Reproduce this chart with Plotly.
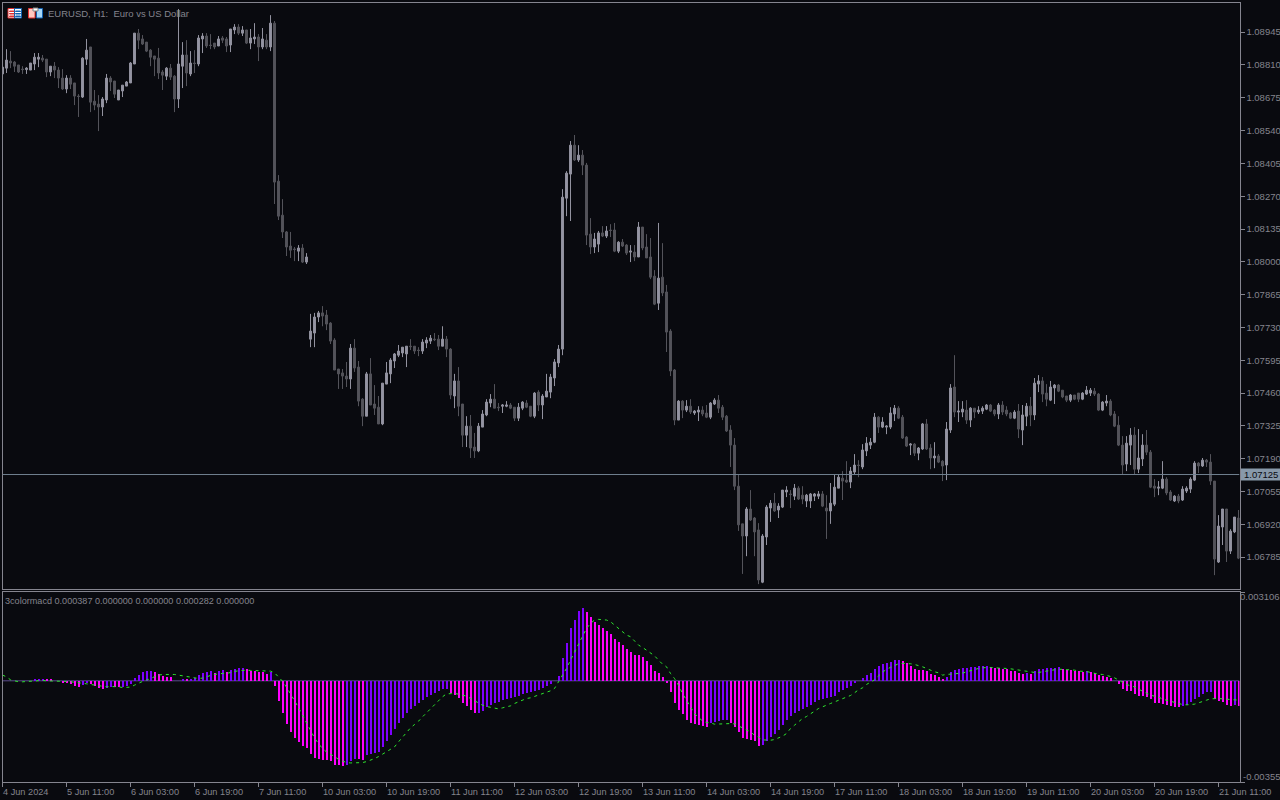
import plotly.graph_objects as go

# Prices in MT5 points (1 point = 0.00001)
opens = [
108773,108797,108826,108822,108810,108793,108791,108789,108814,108834,
108838,108834,108781,108805,108789,108756,108711,108756,108736,108682,
108678,108834,108884,108661,108649,108637,108666,108756,108744,108666,
108703,108723,108736,108814,108941,108917,108904,108871,108847,108838,
108781,108764,108797,108764,108670,108805,108851,108773,108818,108814,
108917,108929,108892,108900,108888,108921,108917,108892,108954,108966,
108941,108954,108900,108917,108925,108884,108912,108884,108982,108332,
108192,108123,108065,108053,108044,108057,107999,107682,107707,107773,
107790,107781,107748,107678,107559,107543,107530,107518,107645,107567,
107435,107365,107539,107415,107402,107333,107497,107539,107592,107616,
107625,107621,107653,107653,107637,107633,107666,107674,107682,107682,
107653,107682,107641,107448,107510,107415,107287,107324,107238,107222,
107320,107370,107419,107435,107402,107406,107406,107411,107402,107357,
107398,107419,107406,107365,107464,107411,107444,107464,107522,107584,
107641,108262,108361,108480,108419,108439,108398,108114,108061,108073,
108119,108106,108131,108131,108044,108081,108069,108040,108040,108020,
108143,108061,108020,107941,107830,107937,107876,107715,107555,107349,
107427,107390,107406,107378,107382,107390,107378,107361,107415,107431,
107402,107365,107308,107246,107077,106922,106872,106983,106946,106897,
106682,106868,106987,107007,106979,106991,107053,107045,107036,107069,
107040,107016,107016,107036,107036,107045,106987,106975,107003,107069,
107110,107102,107094,107135,107164,107156,107222,107246,107258,107361,
107320,107320,107320,107374,107398,107361,107279,107246,107250,107213,
107230,107333,107234,107193,107201,107180,107164,107308,107485,107382,
107382,107390,107349,107398,107382,107386,107394,107411,107390,107374,
107411,107390,107378,107357,107386,107308,107365,107406,107370,107497,
107510,107460,107431,107481,107493,107472,107448,107431,107452,107460,
107435,107456,107460,107468,107456,107390,107419,107427,107374,107328,
107246,107168,107246,107287,107147,107189,107246,107217,107077,107069,
107069,107106,107053,107016,107036,107020,107057,107065,107102,107172,
107160,107184,107176,107098,106765,106909,106983,106810,106889,106946]
highs = [
108801,108875,108867,108826,108810,108805,108801,108818,108859,108859,
108851,108834,108805,108822,108801,108793,108768,108768,108736,108690,
108842,108917,108884,108707,108686,108678,108773,108764,108744,108707,
108727,108744,108822,108941,108958,108933,108904,108875,108847,108880,
108789,108801,108814,108768,109040,108904,108912,108867,108871,108933,
108941,108941,108937,108900,108929,108929,108925,108958,108978,108978,
108970,108954,108958,108982,108937,108962,108937,109015,108991,108357,
108258,108127,108123,108061,108069,108073,108036,107786,107790,107798,
107818,107802,107752,107686,107559,107559,107588,107662,107682,107592,
107439,107547,107604,107493,107448,107501,107588,107604,107625,107658,
107649,107653,107682,107653,107649,107682,107690,107699,107707,107699,
107735,107695,107645,107539,107567,107415,107365,107370,107296,107337,
107390,107435,107456,107497,107419,107415,107427,107419,107402,107419,
107427,107431,107406,107464,107472,107456,107539,107539,107600,107658,
108299,108373,108497,108522,108480,108460,108407,108180,108119,108127,
108147,108147,108155,108160,108085,108094,108073,108069,108069,108164,
108143,108114,108098,107966,108160,108077,107905,107723,107559,107431,
107431,107431,107435,107390,107406,107406,107411,107423,107439,107452,
107411,107370,107328,107275,107123,106922,106991,107061,106950,106925,
106880,106999,107020,107049,107007,107061,107077,107061,107086,107077,
107077,107045,107049,107049,107057,107057,107040,107090,107123,107123,
107139,107180,107156,107209,107184,107250,107279,107275,107378,107365,
107361,107328,107402,107411,107406,107370,107283,107254,107254,107238,
107337,107353,107250,107258,107209,107184,107341,107497,107616,107427,
107427,107431,107402,107398,107406,107406,107415,107415,107394,107419,
107427,107406,107382,107390,107415,107411,107419,107444,107522,107534,
107526,107497,107510,107497,107497,107472,107448,107456,107452,107460,
107464,107489,107481,107481,107460,107427,107452,107435,107386,107365,
107283,107283,107316,107320,107312,107291,107308,107226,107106,107098,
107180,107114,107061,107040,107045,107077,107077,107114,107180,107176,
107193,107189,107209,107098,106958,106983,106983,106900,106950,106979]
lows = [
108773,108777,108797,108781,108777,108773,108773,108789,108789,108801,
108822,108760,108764,108756,108715,108707,108694,108711,108645,108596,
108674,108810,108616,108624,108538,108600,108653,108703,108674,108666,
108678,108723,108736,108814,108875,108892,108863,108805,108764,108752,
108707,108748,108748,108616,108633,108715,108723,108764,108777,108805,
108859,108880,108875,108875,108888,108900,108863,108863,108937,108933,
108929,108896,108875,108896,108826,108875,108875,108867,108238,108172,
108098,108024,108016,108003,108003,107995,107991,107649,107649,107752,
107735,107719,107662,107555,107477,107477,107485,107477,107547,107406,
107324,107365,107411,107370,107333,107328,107497,107501,107563,107608,
107608,107567,107637,107621,107612,107621,107645,107662,107674,107637,
107653,107608,107435,107398,107365,107238,107238,107193,107193,107217,
107320,107365,107402,107398,107386,107378,107402,107394,107345,107345,
107390,107398,107361,107357,107386,107353,107444,107439,107489,107567,
107616,108188,108168,108415,108411,108357,108069,108032,108036,108040,
108102,108098,108102,108040,108036,108061,108028,107999,108003,108020,
108048,108016,107929,107822,107802,107859,107629,107530,107328,107349,
107357,107382,107374,107370,107345,107365,107357,107353,107411,107378,
107349,107300,107156,107061,106893,106716,106789,106934,106789,106674,
106678,106835,106930,106971,106946,106987,107032,106987,107020,107020,
107003,106991,106987,107016,107024,106991,106860,106922,106995,107069,
107020,107090,107069,107127,107114,107147,107201,107230,107254,107296,
107316,107291,107312,107345,107353,107271,107238,107205,107201,107184,
107226,107226,107147,107151,107172,107098,107102,107296,107361,107341,
107361,107333,107320,107357,107374,107374,107390,107382,107365,107353,
107370,107365,107353,107353,107275,107246,107324,107324,107349,107464,
107423,107406,107427,107415,107464,107439,107423,107423,107431,107423,
107431,107452,107448,107448,107386,107386,107406,107365,107320,107242,
107123,107139,107164,107127,107131,107160,107205,107069,107032,107040,
107065,107040,107016,107012,107007,107016,107049,107049,107098,107131,
107156,107156,107082,106711,106761,106835,106765,106798,106884,106777]
closes = [
108801,108830,108818,108805,108781,108791,108797,108818,108842,108842,
108830,108781,108805,108789,108756,108711,108756,108731,108682,108680,
108838,108871,108657,108645,108637,108670,108756,108740,108690,108707,
108727,108740,108818,108941,108912,108896,108867,108842,108834,108777,
108768,108797,108760,108670,108814,108851,108777,108818,108816,108921,
108929,108888,108890,108884,108917,108912,108888,108958,108966,108941,
108954,108900,108921,108925,108884,108917,108884,108982,108328,108188,
108123,108061,108048,108051,108057,107999,108020,107715,107773,107790,
107777,107744,107674,107555,107539,107530,107518,107645,107563,107427,
107365,107539,107411,107398,107333,107501,107543,107596,107621,107633,
107649,107653,107651,107633,107635,107670,107678,107686,107680,107653,
107682,107641,107452,107510,107406,107287,107324,107234,107222,107324,
107374,107423,107435,107398,107400,107411,107411,107398,107357,107402,
107423,107402,107365,107460,107411,107448,107468,107526,107588,107641,
108266,108365,108480,108419,108439,108398,108110,108061,108094,108119,
108106,108127,108129,108044,108081,108065,108036,108044,108020,108143,
108057,108016,107937,107826,107933,107872,107711,107551,107349,107427,
107390,107406,107382,107386,107390,107374,107361,107419,107431,107398,
107361,107304,107246,107077,106918,106872,106983,106938,106889,106691,
106872,106991,107007,106975,106995,107061,107061,107043,107069,107024,
107024,107040,107045,107045,107045,106995,106975,107007,107073,107114,
107098,107094,107139,107164,107162,107226,107254,107258,107361,107320,
107341,107324,107378,107398,107357,107275,107242,107250,107213,107234,
107333,107230,107193,107201,107176,107160,107312,107481,107382,107386,
107394,107349,107398,107382,107390,107398,107411,107386,107374,107411,
107382,107374,107357,107382,107312,107370,107406,107370,107501,107510,
107456,107435,107485,107493,107468,107444,107431,107452,107435,107435,
107460,107472,107472,107456,107390,107423,107427,107370,107324,107246,
107164,107254,107287,107147,107193,107246,107217,107073,107069,107073,
107106,107049,107020,107036,107016,107065,107069,107106,107172,107160,
107184,107176,107098,106777,106913,106983,106810,106892,106950,106781]

# MACD pane, in millionths
macd_hist = [
0,0,0,0,0,0,0,0,35,35,
70,47,35,0,0,-70,-70,-105,-175,-210,
-140,-70,-105,-175,-245,-280,-245,-210,-222,-234,
-210,-175,-105,105,210,315,327,339,315,245,
175,140,117,0,0,70,35,70,105,210,
280,315,327,280,350,362,315,385,420,432,
455,420,350,339,315,304,245,315,-175,-701,
-1121,-1506,-1787,-1997,-2137,-2277,-2347,-2557,-2697,-2732,
-2767,-2779,-2802,-2954,-2960,-2966,-2954,-2814,-2721,-2744,
-2779,-2592,-2569,-2522,-2487,-2324,-2114,-1903,-1693,-1483,
-1308,-1133,-993,-887,-759,-677,-561,-502,-409,-362,
-292,-280,-409,-502,-596,-782,-876,-1028,-1133,-1121,
-1063,-922,-852,-782,-736,-677,-642,-607,-561,-525,
-467,-432,-397,-362,-327,-245,-199,-128,0,152,
782,1308,1833,2125,2429,2534,2394,2219,2043,1950,
1857,1740,1635,1460,1355,1238,1098,993,899,887,
817,677,537,327,280,117,-70,-397,-771,-1016,
-1168,-1366,-1483,-1518,-1541,-1588,-1600,-1483,-1425,-1413,
-1378,-1366,-1483,-1600,-1798,-2008,-2043,-2079,-2114,-2289,
-2254,-2114,-1973,-1868,-1728,-1553,-1378,-1238,-1133,-1063,
-993,-922,-852,-747,-677,-642,-607,-572,-537,-397,
-327,-257,-187,-82,0,93,210,269,409,514,
584,631,654,724,736,689,607,514,409,385,
374,339,234,199,128,58,128,304,374,409,
444,455,479,490,502,514,525,479,455,444,
409,397,339,327,269,234,269,234,339,409,
420,432,444,455,467,409,385,374,339,327,
304,339,304,269,199,163,128,93,0,-105,
-280,-350,-362,-467,-514,-537,-549,-642,-759,-782,
-817,-852,-887,-899,-911,-876,-852,-747,-642,-560,
-467,-397,-385,-642,-712,-724,-852,-887,-852,-887]
macd_signal = [
199,140,35,-12,-35,-35,-23,-12,-12,12,
12,0,0,0,0,-12,-23,-35,-47,-70,
-93,-105,-128,-152,-187,-210,-210,-199,-199,-210,
-234,-234,-222,-152,-82,-23,23,82,140,199,
222,210,222,222,199,163,140,117,93,82,
93,152,187,222,245,257,257,304,327,350,
374,374,362,362,362,362,362,339,280,140,
-12,-222,-444,-677,-934,-1203,-1460,-1740,-1997,-2195,
-2370,-2487,-2557,-2651,-2744,-2814,-2861,-2873,-2873,-2861,
-2861,-2826,-2779,-2721,-2651,-2569,-2487,-2417,-2312,-2137,
-1962,-1787,-1646,-1530,-1413,-1261,-1121,-969,-829,-677,
-560,-455,-444,-444,-467,-490,-537,-619,-701,-771,
-852,-899,-934,-969,-981,-946,-922,-876,-794,-736,
-689,-619,-596,-549,-502,-444,-385,-350,-269,-35,
175,432,724,1016,1308,1600,1833,2008,2125,2149,
2149,2125,2067,1950,1857,1740,1600,1541,1390,1249,
1168,1074,958,876,724,584,490,257,82,-152,
-444,-677,-911,-1144,-1284,-1401,-1460,-1471,-1518,-1506,
-1495,-1495,-1495,-1506,-1576,-1646,-1717,-1787,-1903,-1962,
-2067,-2079,-2079,-2055,-1997,-1938,-1845,-1670,-1553,-1436,
-1319,-1249,-1144,-1063,-969,-899,-852,-794,-736,-689,
-619,-549,-514,-420,-315,-245,-128,-47,35,175,
292,409,467,537,596,607,607,596,572,537,
490,432,362,315,280,199,222,234,234,257,
269,315,362,397,432,455,467,467,455,455,
432,432,420,397,374,339,315,304,292,292,
304,339,362,385,409,397,385,397,374,339,
339,327,292,257,234,222,199,152,105,23,
-58,-128,-175,-210,-292,-362,-432,-502,-537,-560,
-642,-677,-736,-759,-806,-829,-841,-829,-817,-771,
-736,-677,-631,-619,-619,-631,-642,-642,-666,-677]

date_labels = ["4 Jun 2024","5 Jun 11:00","6 Jun 03:00","6 Jun 19:00","7 Jun 11:00",
 "10 Jun 03:00","10 Jun 19:00","11 Jun 11:00","12 Jun 03:00","12 Jun 19:00",
 "13 Jun 11:00","14 Jun 03:00","14 Jun 19:00","17 Jun 11:00","18 Jun 03:00",
 "18 Jun 19:00","19 Jun 11:00","20 Jun 03:00","20 Jun 19:00","21 Jun 11:00"]
price_ticks = [1.08945,1.08810,1.08675,1.08540,1.08405,1.08270,1.08135,1.08000,1.07865,
 1.07730,1.07595,1.07460,1.07325,1.07190,1.07055,1.06920,1.06785]
macd_ticks = [0.003106,-0.00355]
last_price = 1.07125
title_text = "EURUSD, H1:  Euro vs US Dollar"
indicator_text = "3colormacd 0.000387 0.000000 0.000000 0.000282 0.000000"

for a in (opens, highs, lows, closes, macd_hist, macd_signal):
    assert len(a) == 310, len(a)

BG = "#090a0f"; FRAME = "#85858f"; TXT = "#84848d"; FONT = "Liberation Sans"; FS = 9.5
W, H = 1280, 800
px = lambda v: v / W
py = lambda v: (H - v) / H
pt = 1e-5
xs = list(range(310))
date_idx = [16 * k for k in range(len(date_labels))]

hist = [v * 1e-6 for v in macd_hist]
sig = [v * 1e-6 for v in macd_signal]
colors, prev = [], "#ff00ff"
for i, v in enumerate(hist):
    if i and v > hist[i - 1]:
        prev = "#7f00ff"
    elif i and v < hist[i - 1]:
        prev = "#ff00ff"
    colors.append(prev)

fig = go.Figure()
fig.add_trace(go.Candlestick(
    x=xs, open=[v * pt for v in opens], high=[v * pt for v in highs],
    low=[v * pt for v in lows], close=[v * pt for v in closes],
    increasing=dict(line=dict(color="#92929f", width=1), fillcolor="#9696a4"),
    decreasing=dict(line=dict(color="#53535a", width=1), fillcolor="#55555c"),
    whiskerwidth=0, xaxis="x", yaxis="y", hoverinfo="skip"))
fig.add_trace(go.Bar(x=xs, y=hist, width=0.55, marker=dict(color=colors, line=dict(width=0)),
                     xaxis="x2", yaxis="y2", hoverinfo="skip"))
fig.add_trace(go.Scatter(x=xs, y=sig, mode="lines", line=dict(color="#2ee62e", width=1, dash="3px,4px"),
                         xaxis="x2", yaxis="y2", hoverinfo="skip"))

xr = [0, 309.25]
axis = dict(showgrid=False, zeroline=False, showline=True, linecolor=FRAME, linewidth=1, mirror=True)
fig.update_layout(
    width=W, height=H, margin=dict(l=0, r=0, t=0, b=0, autoexpand=False), showlegend=False, autosize=False,
    paper_bgcolor=BG, plot_bgcolor=BG, hovermode=False, bargap=0,
    font=dict(family=FONT, size=FS, color=TXT),
    xaxis=dict(domain=[px(2.5), px(1239.5)], range=xr, anchor="y", showticklabels=False, ticks="",
               rangeslider=dict(visible=False), **axis),
    yaxis=dict(domain=[py(589), py(2.5)], range=[106654 * pt, 109067 * pt], side="right", anchor="x",
               tickmode="array", tickvals=price_ticks, ticktext=[f"{v:.5f}" for v in price_ticks],
               ticks="outside", ticklen=4, tickcolor=FRAME, tickwidth=1,
               tickfont=dict(family=FONT, size=FS, color=TXT), **axis),
    xaxis2=dict(domain=[px(2.5), px(1239.5)], range=xr, anchor="y2", tickmode="array", tickvals=date_idx,
                ticktext=[""] * len(date_idx), ticks="outside", ticklen=4, tickcolor=FRAME, tickwidth=1, **axis),
    yaxis2=dict(domain=[py(782.3), py(592)], range=[macd_ticks[1], macd_ticks[0]], side="right", anchor="x2",
                tickmode="array", tickvals=macd_ticks, ticktext=["", ""], ticks="outside", ticklen=4,
                tickcolor=FRAME, tickwidth=1, **axis),
)

shapes = [
    dict(type="line", xref="x", yref="y", x0=xr[0], x1=xr[1], y0=last_price, y1=last_price,
         line=dict(color="#708090", width=1), layer="above"),
    dict(type="line", xref="x2", yref="y2", x0=xr[0], x1=xr[1], y0=0, y1=0,
         line=dict(color="#5a4a8c", width=1), layer="below"),
    dict(type="rect", xref="paper", yref="paper", x0=px(1241), x1=px(1280), y0=py(480.5), y1=py(468.5),
         fillcolor="#8899aa", line=dict(width=0)),
]
def rect(x0, y0, x1, y1, fill, line=None):
    shapes.append(dict(type="rect", xref="paper", yref="paper", x0=px(x0), x1=px(x1), y0=py(y1), y1=py(y0),
                       fillcolor=fill, line=dict(color=line or fill, width=1)))
# toolbar icons
rect(8, 8.5, 14.5, 18, "#ffffff", "#e03030")
rect(14.5, 8.5, 21.5, 18, "#ffffff", "#1060b0")
for yy in (11, 13.5, 16):
    rect(9.5, yy, 14, yy + 0.5, "#e03030")
    rect(15.5, yy, 20.5, yy + 0.5, "#1060b0")
rect(28.5, 8.5, 35, 18, "#ffc8c0", "#e03030")
rect(36.5, 8.5, 42.5, 18, "#a8d8f8", "#1060b0")
rect(33, 8, 38, 11, "#ffffff", "#808080")
fig.update_layout(shapes=shapes)

ann = []
def text(x, y, s, color=TXT, size=FS):
    ann.append(dict(xref="paper", yref="paper", x=px(x), y=py(y), text=s, showarrow=False, xanchor="left",
                    yanchor="middle", align="left", font=dict(family=FONT, size=size, color=color),
                    borderpad=0, borderwidth=0))
for idx, lab in zip(date_idx, date_labels):
    text(2.5 + 4 * idx, 791.5, lab, size=9.2)
text(48, 13.5, title_text)
text(5, 600.5, indicator_text, size=9.1)
text(1240, 596.7, f"{macd_ticks[0]:.6f}")
text(1243, 776, f"{macd_ticks[1]:.5f}")
text(1244, 474.5, f"{last_price:.5f}", color="#0a0a10")
fig.update_layout(annotations=ann)

fig.write_html("out.html", config={"displayModeBar": False},
               post_script="document.body.style.margin='0';document.body.style.background='#090a0f';")
